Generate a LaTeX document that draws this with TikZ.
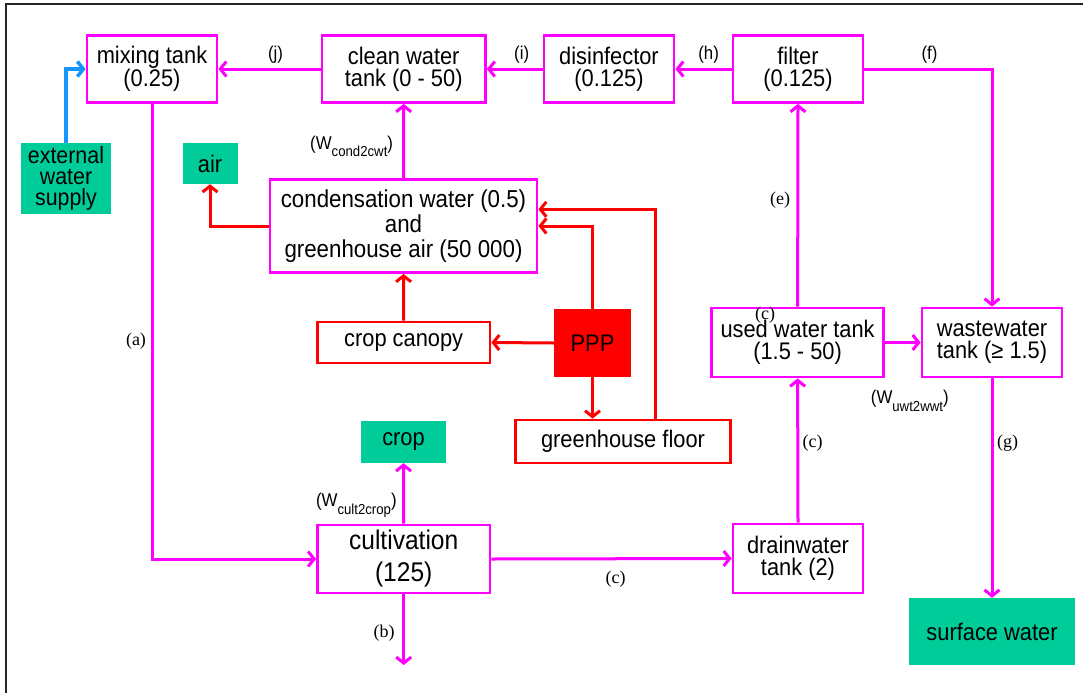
\documentclass[tikz,border=0pt]{standalone}
\usepackage{fontspec}
\setmainfont{Liberation Sans}[FakeStretch=0.91]
\newfontfamily\serifl{Liberation Serif}
\usetikzlibrary{arrows.meta,calc}
\definecolor{mag}{RGB}{255,0,255}
\definecolor{rd}{RGB}{255,0,0}
\definecolor{grn}{RGB}{0,204,153}
\definecolor{blu}{RGB}{20,150,255}
\newcommand{\wsub}[1]{\raisebox{-7.5pt}{\fontsize{14.5}{14.5}\selectfont #1}}
\begin{document}
\begin{tikzpicture}[x=1pt,y=-1pt,
  base/.style={inner sep=0pt, align=center, font=\fontsize{24}{22}\selectfont, text=black},
  box/.style={base, draw=mag, line width=2.8pt},
  rbox/.style={base, draw=rd, line width=2.8pt},
  gbox/.style={base, fill=grn},
  sz/.style 2 args={minimum width=#1pt, minimum height=#2pt},
  lab/.style={inner sep=0pt, font=\fontsize{18.5}{18.5}\selectfont},
  slab/.style={inner sep=0pt, font=\fontsize{18}{18}\selectfont\serifl},
  tip/.style={-{Straight Barb[length=6pt,width=15pt]}},
  mline/.style={draw=mag, line width=3pt, tip},
  rline/.style={draw=rd, line width=3pt, tip},
  bline/.style={draw=blu, line width=3.5pt, tip}
]
\useasboundingbox (0,0) rectangle (1083,693);
\fill[white] (0,0) rectangle (1083,693);
\draw[line width=1.5pt, black!85] (6,693) -- (6,4) -- (1083,4);

% nodes
\node[box, sz={130}{67}] (mix) at (152,69) {mixing tank\\(0.25)};
\node[box, sz={163.5}{67}] (cwt) at (403.7,69) {clean water\\tank (0 - 50)};
\node[box, sz={130}{67}] (dis) at (609,69) {disinfector\\(0.125)};
\node[box, sz={130}{67}] (fil) at (798,69) {filter\\(0.125)};
\node[gbox, sz={90}{71}, font=\fontsize{23.5}{21}\selectfont] (ext) at (66,178.5) {external\\water\\supply};
\node[gbox, sz={55}{41}] (air) at (210,163.5) {air};
\node[box, sz={267}{93}, font=\fontsize{24.5}{25}\selectfont] (cond) at (403.5,226) {condensation water (0.5)\\and\\greenhouse air (50 000)};
\node[rbox, sz={172.5}{41}] (canopy) at (403.7,342.5) {crop canopy};
\node[base, fill=rd, sz={77}{68}] (ppp) at (592.5,343) {PPP};
\node[rbox, sz={215}{43}] (floor) at (623,441.5) {greenhouse floor};
\node[gbox, sz={85}{42}] (crop) at (403.5,442) {crop};
\node[box, sz={172.5}{68}, font=\fontsize{27}{32}\selectfont] (cult) at (403.7,559) {cultivation\\(125)};
\node[box, sz={130}{69}] (drain) at (798,558.5) {drainwater\\tank (2)};
\node[box, sz={172.4}{69}] (uwt) at (797.6,342.5) {used water tank\\(1.5 - 50)};
\node[box, sz={140}{69}] (wwt) at (992,342.5) {wastewater\\tank (≥ 1.5)};
\node[gbox, sz={166}{67}] (surf) at (992,631.5) {surface water};
\coordinate (bend) at (403.7,665);

% labels
\node[lab] (lj) at (275.5,55) {(j)};
\node[lab] (li) at (521.7,55) {(i)};
\node[lab] (lh) at (708.6,55) {(h)};
\node[lab] (lf) at (929.5,55) {(f)};
\node[slab] (le) at (780,200) {(e)};
\node[slab] (lc1) at (765,315) {(c)};
\node[slab] (lg) at (1007.5,443) {(g)};
\node[slab] (lc2) at (812.5,443) {(c)};
\node[slab] (lc3) at (615.5,579) {(c)};
\node[slab] (lb) at (384,633) {(b)};
\node[slab] (la) at (136,341) {(a)};
\node[lab, anchor=base west] (lw1) at (310,149.3) {(W\wsub{cond2cwt})};
\node[lab, anchor=base west] (lw2) at (315.8,506.6) {(W\wsub{cult2crop})};
\node[lab, anchor=base west] (lw3) at (870.7,403.6) {(W\wsub{uwt2wwt})};

% connectors
\draw[bline] (ext.north) |- (mix.west);
\draw[mline] (cwt.west) -- (mix.east);
\draw[mline] (dis.west) -- (cwt.east);
\draw[mline] (fil.west) -- (dis.east);
\draw[mline] (fil.east) -| (wwt.north);
\draw[mline] (uwt.north) -- (fil.south);
\draw[mline] (uwt.east) -- (wwt.west);
\draw[mline] (wwt.south) -- (surf.north);
\draw[mline] (drain.north) -- (uwt.south);
\draw[mline] (cult.east) -- (drain.west);
\draw[mline] (cult.south) -- (bend);
\draw[mline] (cult.north) -- (crop.south);
\draw[mline] (mix.south) |- (cult.west);
\draw[mline] (cond.north) -- (cwt.south);

\draw[rline] (cond.west) -| (air.south);
\draw[rline] (canopy.north) -- (cond.south);
\draw[rline] (ppp.west) -- (canopy.east);
\draw[rline] (ppp.south) -- (ppp.south |- floor.north);
\draw[rline] (ppp.north) |- (cond.east);
\draw[rline] ([xshift=32pt]floor.north) |- ([yshift=16.7pt]cond.east);
\end{tikzpicture}
\end{document}
